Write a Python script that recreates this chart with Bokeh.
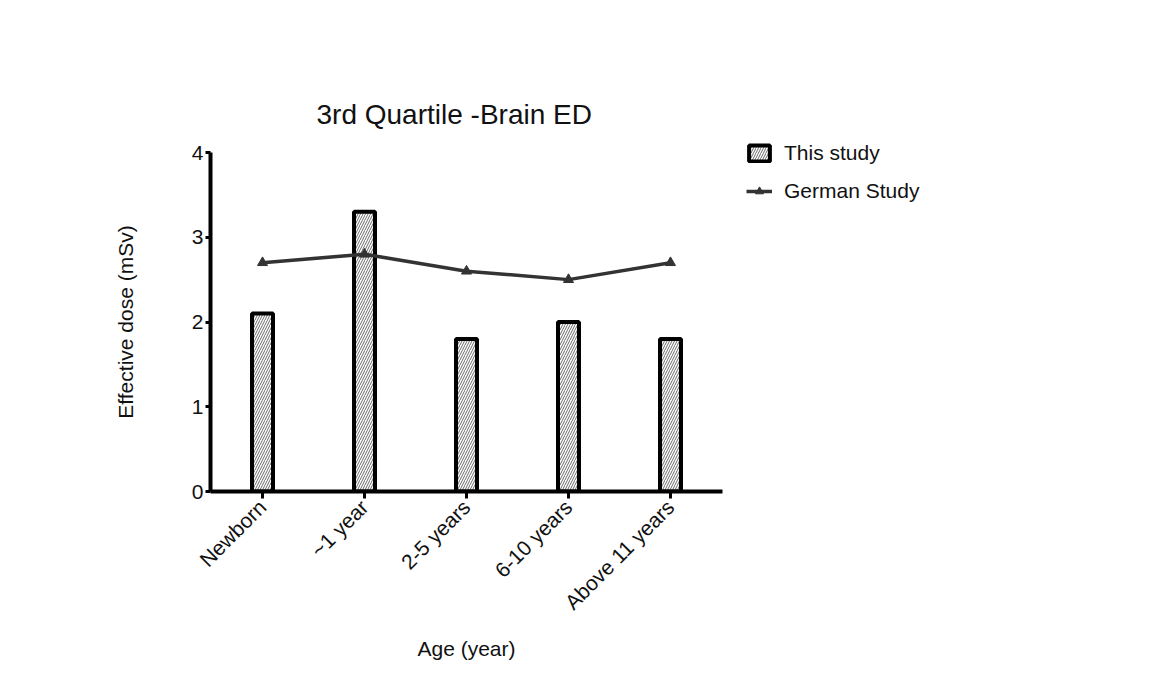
import math
from bokeh.plotting import figure
from bokeh.models import ColumnDataSource, FixedTicker, Legend, LegendItem, Range1d
from bokeh.embed import file_html
from bokeh.resources import INLINE

categories = ["Newborn", "~1 year", "2-5 years", "6-10 years", "Above 11 years"]
this_study = [2.1, 3.3, 1.8, 2.0, 1.8]
german_study = [2.7, 2.8, 2.6, 2.5, 2.7]
y_ticks = [0, 1, 2, 3, 4]

FONT = "Liberation Sans"
xs = list(range(len(categories)))
src = ColumnDataSource(dict(x=xs, this=this_study, german=german_study))

p = figure(frame_width=512, frame_height=339, output_backend="svg", toolbar_location=None,
           x_range=Range1d(-0.51, 4.51), y_range=Range1d(0, 4),
           min_border_left=210, min_border_right=0, min_border_top=152, min_border_bottom=194)
p.outline_line_color = None
p.xgrid.grid_line_color = None
p.ygrid.grid_line_color = None
p.background_fill_color = "white"
p.border_fill_color = "white"

p.title.text = "3rd Quartile -Brain ED"
p.title.align = "left"
p.title.text_font = FONT
p.title.text_font_size = "28px"
p.title.text_font_style = "normal"
p.title.text_color = "#111111"
p.title.offset = 106
p.title.standoff = 45

bars = p.vbar(x="x", top="this", width=0.206, source=src, bottom=0,
              fill_color="white", line_color="black", line_width=4,
              hatch_pattern="/", hatch_color="#444444", hatch_scale=5, hatch_weight=0.8)
line = p.line(x="x", y="german", source=src, line_color="#333333", line_width=3.5)
pts = p.scatter(x="x", y="german", source=src, marker="triangle", size=10,
                fill_color="#333333", line_color="#333333")

legend = Legend(items=[LegendItem(label="This study", renderers=[bars]),
                       LegendItem(label="German Study", renderers=[line, pts])],
                location=(24, 288), border_line_color=None, background_fill_alpha=0,
                padding=0, margin=0,
                label_text_font=FONT, label_text_font_size="21px", label_standoff=12,
                label_text_color="#111111",
                glyph_width=26, glyph_height=20, spacing=14)
p.add_layout(legend, "right")

for ax in (p.xaxis[0], p.yaxis[0]):
    ax.axis_line_width = 4
    ax.axis_line_color = "black"
    ax.major_tick_line_width = 3
    ax.major_tick_line_color = "black"
    ax.minor_tick_line_color = None
    ax.major_tick_in = 0
    ax.major_label_text_font = FONT
    ax.major_label_text_font_size = "21px"
    ax.major_label_text_color = "#111111"
    ax.axis_label_text_font = FONT
    ax.axis_label_text_font_size = "21px"
    ax.axis_label_text_font_style = "normal"
    ax.axis_label_text_color = "#111111"

p.xaxis.ticker = FixedTicker(ticks=xs)
p.xaxis.major_label_overrides = {i: c for i, c in enumerate(categories)}
p.xaxis.major_label_orientation = math.pi / 4
p.xaxis.major_tick_out = 7
p.xaxis.axis_label = "Age (year)"
p.xaxis.axis_label_standoff = 12

p.yaxis.ticker = FixedTicker(ticks=y_ticks)
p.yaxis.major_tick_out = 5
p.yaxis.axis_label = "Effective dose (mSv)"
p.yaxis.axis_label_standoff = 52
p.yaxis.major_label_standoff = 2

open("out.html", "w").write(file_html(p, INLINE))
